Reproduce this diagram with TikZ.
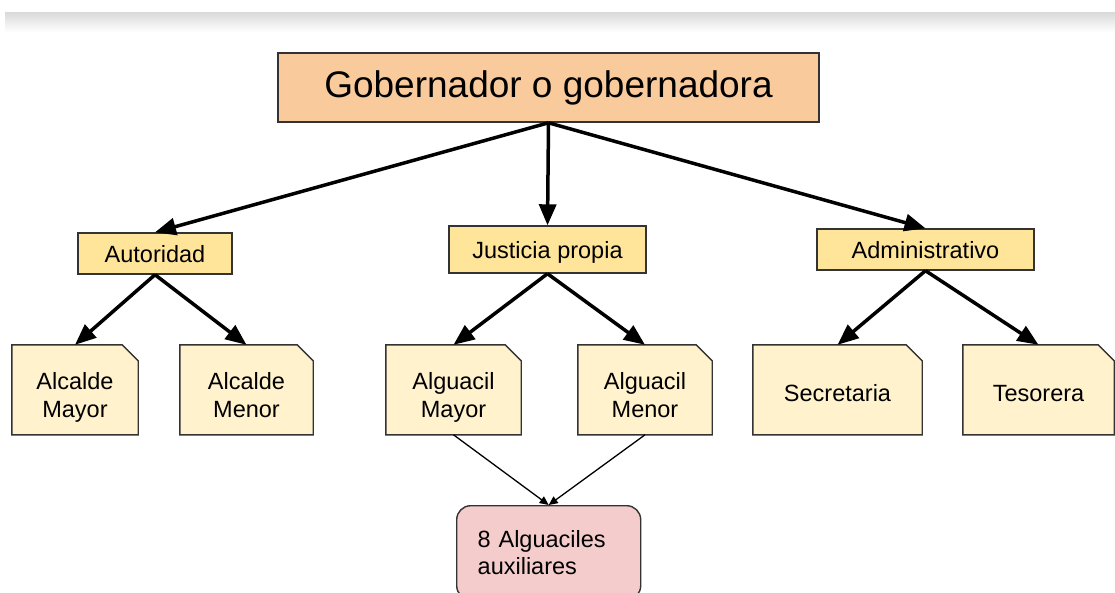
\documentclass[tikz,border=0pt]{standalone}
\usepackage{fontspec}
\setmainfont{Liberation Sans}
\usetikzlibrary{arrows.meta,backgrounds}
\definecolor{topfill}{HTML}{F9CB9C}
\definecolor{midfill}{HTML}{FFE599}
\definecolor{leaffill}{HTML}{FFF2CC}
\definecolor{pinkfill}{HTML}{F4CCCC}
\definecolor{edgecol}{HTML}{333333}
% folded-corner outline: fixed 90pt tall, hanging from the node's north edge
\newcommand\foldbox[1]{\filldraw[leafline] ([yshift=-90pt]#1.north west) -- (#1.north west) -- ([xshift=-16pt]#1.north east) -- ([yshift=-16pt]#1.north east) -- ([yshift=-90pt]#1.north east) -- cycle;
  \coordinate (#1-bot) at ([yshift=-90pt]#1.north);}
\begin{document}
\begin{tikzpicture}[x=1pt,y=-1pt,
  topbox/.style={draw=edgecol, line width=1.6pt, fill=topfill, minimum width=541pt, minimum height=69pt, inner sep=0pt, font=\fontsize{37}{44}\selectfont},
  midbox/.style={draw=edgecol, line width=1.4pt, fill=midfill, inner sep=0pt, text height=20pt, text depth=3pt, font=\fontsize{23.5}{28}\selectfont},
  leafbox/.style={inner sep=0pt, align=center, font=\fontsize{23.5}{28}\selectfont},
  twoline/.style={minimum height=106pt},
  oneline/.style={minimum height=102pt},
  leafline/.style={draw=edgecol, line width=1.4pt, fill=leaffill, line join=miter},
  pinkbox/.style={draw=edgecol, line width=1.4pt, fill=pinkfill, rounded corners=14pt, align=left, text width=142pt, inner xsep=21pt, inner ysep=0pt, minimum height=94pt, font=\fontsize{23.5}{26.5}\selectfont},
  bigarrow/.style={line width=3.5pt, -{Triangle[length=21pt,width=17pt]}},
  thinarrow/.style={line width=1.3pt, -{Triangle[length=9pt,width=8pt]}}]
\useasboundingbox (0,0) rectangle (1115,592);
\clip (0,0) rectangle (1115,592);
\shade[top color=black!15, bottom color=white] (5,12) rectangle (1115,32);

\node[topbox] (top) at (548.5,87.5) {Gobernador o gobernadora};

\node[midbox, minimum width=154pt, minimum height=41pt] (aut) at (155,253.5) {Autoridad};
\node[midbox, minimum width=197pt, minimum height=47pt] (jus) at (547.5,249.5) {Justicia propia};
\node[midbox, minimum width=217pt, minimum height=41pt] (adm) at (925.5,249.5) {Administrativo};

\node[leafbox, twoline, minimum width=126pt] (am) at (75,398) {Alcalde\strut\\Mayor\strut};
\node[leafbox, twoline, minimum width=133pt] (amn) at (246.5,398) {Alcalde\strut\\Menor\strut};
\node[leafbox, twoline, minimum width=135pt] (gm) at (453.5,398) {Alguacil\strut\\Mayor\strut};
\node[leafbox, twoline, minimum width=134pt] (gmn) at (645,398) {Alguacil\strut\\Menor\strut};
\node[leafbox, oneline, minimum width=169pt] (sec) at (837.5,396) {Secretaria\strut};
\node[leafbox, oneline, minimum width=151pt] (tes) at (1038.5,396) {Tesorera\strut};

\begin{pgfonlayer}{background}
\foldbox{am}
\foldbox{amn}
\foldbox{gm}
\foldbox{gmn}
\foldbox{sec}
\foldbox{tes}
\end{pgfonlayer}

\node[pinkbox, anchor=north west] (pink) at (456,505) {8 Alguaciles\\auxiliares};

\draw[bigarrow] (top.south) -- (aut.north);
\draw[bigarrow] (top.south) -- (jus.north);
\draw[bigarrow] (top.south) -- (adm.north);

\draw[bigarrow] (aut.south) -- (am.north);
\draw[bigarrow] (aut.south) -- (amn.north);
\draw[bigarrow] (jus.south) -- (gm.north);
\draw[bigarrow] (jus.south) -- (gmn.north);
\draw[bigarrow] (adm.south) -- (sec.north);
\draw[bigarrow] (adm.south) -- (tes.north);

\draw[thinarrow] (gm-bot) -- (pink.north);
\draw[thinarrow] (gmn-bot) -- (pink.north);
\end{tikzpicture}
\end{document}
